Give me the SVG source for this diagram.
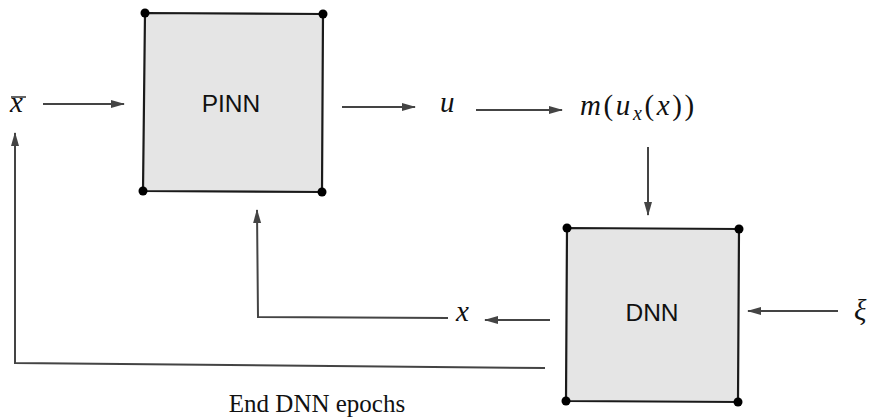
<svg xmlns="http://www.w3.org/2000/svg" width="870" height="419" viewBox="0 0 870 419">
<style>
.box{fill:#e5e5e5;stroke:#1a1a1a;stroke-width:2.2}
.dot{fill:#000}
.lbl{font-family:"Liberation Sans",Arial,sans-serif;font-size:24.5px;fill:#111;text-anchor:middle}
.math{font-family:"Liberation Serif","DejaVu Serif",serif;font-style:italic;font-size:29px;fill:#111}
.up{font-style:normal}
.c{fill:none;stroke:#444;stroke-width:2}
.cap{font-family:"Liberation Serif","Times New Roman",serif;font-size:25px;fill:#111;text-anchor:middle}
</style>
<defs>
<marker id="ah" markerWidth="14" markerHeight="10" refX="13" refY="5" orient="auto" markerUnits="userSpaceOnUse">
<path d="M0,1 L14,5 L0,9 z" fill="#444"/>
</marker>
</defs>
<rect width="870" height="419" fill="#fff"/>
<g id="pinn">
<path class="box" d="M145,13 L323,14 L322,192 L143,191 Z"/>
<circle class="dot" cx="145" cy="13" r="4.5"/>
<circle class="dot" cx="323" cy="14" r="4.5"/>
<circle class="dot" cx="143" cy="191" r="4.5"/>
<circle class="dot" cx="322" cy="192" r="4.5"/>
<text class="lbl" x="231" y="112">PINN</text>
</g>
<g id="dnn">
<path class="box" d="M567,228 L739,229 L738,402 L566,401 Z"/>
<circle class="dot" cx="567" cy="228" r="4.5"/>
<circle class="dot" cx="739" cy="229" r="4.5"/>
<circle class="dot" cx="566" cy="401" r="4.5"/>
<circle class="dot" cx="738" cy="402" r="4.5"/>
<text class="lbl" x="652" y="321">DNN</text>
</g>
<g id="labels">
<text class="math" x="10" y="112">x</text>
<line x1="11" y1="97" x2="26" y2="97" stroke="#111" stroke-width="1.3"/>
<text class="math" x="440" y="112">u</text>
<text class="math" x="580" y="115" letter-spacing="2.6">m<tspan class="up">(</tspan>u<tspan font-size="20" dy="5">x</tspan><tspan class="up" dy="-5">(</tspan>x<tspan class="up">))</tspan></text>
<text class="math" x="854" y="320">ξ</text>
<text class="math" x="456" y="321">x</text>
<text class="cap" x="317" y="412">End DNN epochs</text>
</g>
<g id="connectors">
<line class="c" x1="43" y1="104" x2="124" y2="104" marker-end="url(#ah)"/>
<line class="c" x1="342" y1="107" x2="415" y2="107" marker-end="url(#ah)"/>
<line class="c" x1="476" y1="110" x2="562" y2="110" marker-end="url(#ah)"/>
<line class="c" x1="648" y1="147" x2="648" y2="215" marker-end="url(#ah)"/>
<line class="c" x1="838" y1="311" x2="748" y2="311" marker-end="url(#ah)"/>
<line class="c" x1="550" y1="320" x2="485" y2="320" marker-end="url(#ah)"/>
<polyline class="c" points="448,318 258,317 257,210" marker-end="url(#ah)"/>
<polyline class="c" points="545,368 15,363 15,133" marker-end="url(#ah)"/>
</g>
</svg>
